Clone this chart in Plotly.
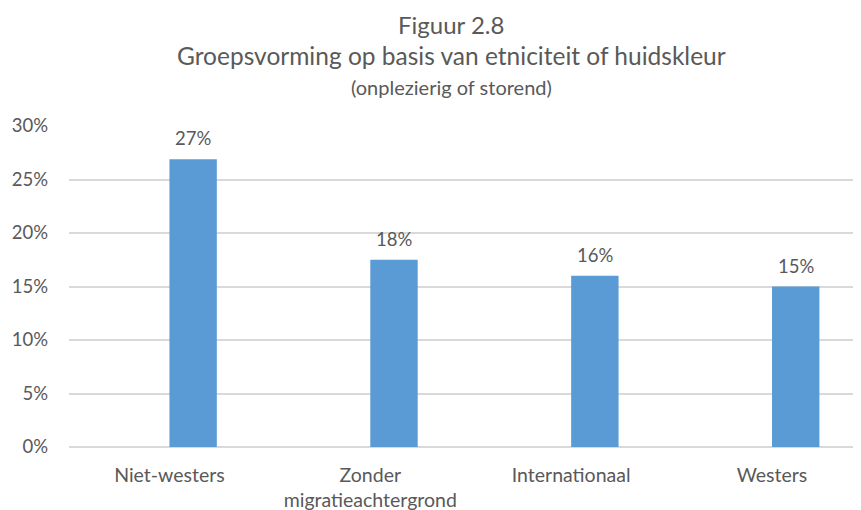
import plotly.graph_objects as go

categories = ["Niet-westers", "Zonder<br>migratieachtergrond", "Internationaal", "Westers"]
values = [26.9, 17.5, 16.0, 15.0]
value_labels = ["27%", "18%", "16%", "15%"]
y_ticks = [0, 5, 10, 15, 20, 25, 30]
y_tick_labels = ["0%", "5%", "10%", "15%", "20%", "25%", "30%"]

title_line1 = "Figuur 2.8"
title_line2 = "Groepsvorming op basis van etniciteit of huidskleur"
title_line3 = "(onplezierig of storend)"

FONT = "Lato, Carlito, Calibri, sans-serif"
TXT = "#595959"
GRID = "#D9D9D9"
BAR_W = 0.236

# page body has a default 8px margin; compensate so the visible page matches
PLOT_TOP, PLOT_BOTTOM = 126, 446.7   # on-screen pixels
PLOT_LEFT, PLOT_RIGHT = 68.5, 861
PH = PLOT_BOTTOM - PLOT_TOP
PW = PLOT_RIGHT - PLOT_LEFT

def py(s):
    return (PLOT_BOTTOM - s) / PH

def px(s):
    return (s - PLOT_LEFT) / PW

fig = go.Figure()
# bar drawn as the second slot of a two-slot cluster (Excel style): starts at category centre
fig.add_trace(go.Bar(
    x=list(range(len(categories))),
    y=values,
    width=BAR_W,
    offset=0,
    marker=dict(color="#5B9BD5", line=dict(width=0)),
    hoverinfo="skip",
))

annotations = []
for i, (v, lab) in enumerate(zip(values, value_labels)):
    annotations.append(dict(
        x=i + BAR_W / 2, y=v, xref="x", yref="y", text=lab, showarrow=False,
        yanchor="bottom", yshift=8, font=dict(family=FONT, size=18.5, color=TXT),
    ))

annotations += [
    dict(x=px(451), y=py(25), xref="paper", yref="paper", text=title_line1,
         showarrow=False, xanchor="center", yanchor="middle",
         font=dict(family=FONT, size=24, color=TXT)),
    dict(x=px(451), y=py(56), xref="paper", yref="paper", text=title_line2,
         showarrow=False, xanchor="center", yanchor="middle",
         font=dict(family=FONT, size=24.5, color=TXT)),
    dict(x=px(451), y=py(87), xref="paper", yref="paper", text=title_line3,
         showarrow=False, xanchor="center", yanchor="middle",
         font=dict(family=FONT, size=20, color=TXT)),
]

fig.update_layout(
    width=861, height=510,
    margin=dict(l=PLOT_LEFT - 8, r=861 - PLOT_RIGHT + 8, t=PLOT_TOP - 8, b=510 - PLOT_BOTTOM + 8),
    paper_bgcolor="white", plot_bgcolor="white",
    showlegend=False,
    font=dict(family=FONT, color=TXT, size=18.5),
    annotations=annotations,
    xaxis=dict(
        range=[-0.5, 3.443],
        tickmode="array",
        tickvals=list(range(len(categories))),
        ticktext=categories,
        showgrid=False, zeroline=False, showline=False,
        ticks="", ticklabelstandoff=14, automargin=False,
        tickfont=dict(family=FONT, size=19.5, color=TXT),
    ),
    yaxis=dict(
        range=[0, 30],
        tickmode="array",
        tickvals=y_ticks,
        ticktext=y_tick_labels,
        showgrid=True, gridcolor=GRID, gridwidth=1.5,
        zeroline=True, zerolinecolor=GRID, zerolinewidth=1.5,
        showline=False, ticks="", ticklabelstandoff=20, automargin=False,
        tickfont=dict(family=FONT, size=18.5, color=TXT),
    ),
)

fig.write_html("out.html")
